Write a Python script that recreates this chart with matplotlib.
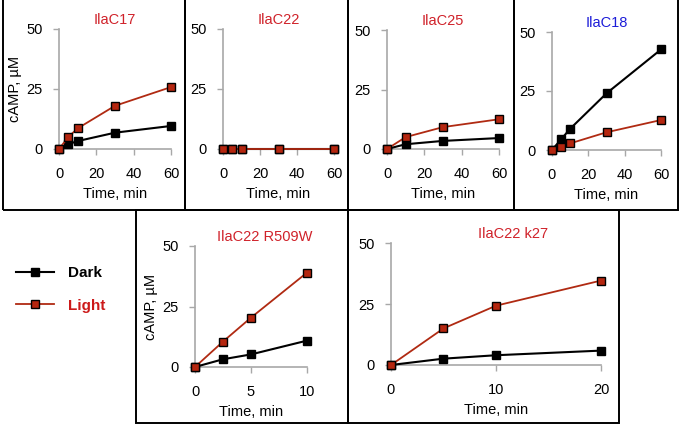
import matplotlib.pyplot as plt
from matplotlib.patches import Rectangle

plt.rcParams['font.family'] = ['Liberation Sans', 'DejaVu Sans']

W, H = 680, 428

# --- data ---
names = ['IlaC17', 'IlaC22', 'IlaC25', 'IlaC18', 'IlaC22 R509W', 'IlaC22 k27']
title_colors = ['#d0222a', '#d0222a', '#d0222a', '#1c1cd8', '#d0222a', '#d0222a']

t_17 = [0, 5, 10, 30, 60]
dark_17 = [0, 2.0, 3.3, 6.8, 9.6]
light_17 = [0, 5.0, 8.6, 18.0, 25.8]

t_22 = [0, 5, 10, 30, 60]
dark_22 = [0, 0, 0, 0, 0]
light_22 = [0, 0, 0, 0, 0]

t_25 = [0, 10, 30, 60]
dark_25 = [0, 2.0, 3.4, 4.6]
light_25 = [0, 5.0, 9.2, 12.5]

t_18 = [0, 5, 10, 30, 60]
dark_18 = [0, 4.5, 9.0, 24.0, 42.6]
light_18 = [0, 1.4, 2.8, 7.5, 12.7]

t_r509w = [0, 2.5, 5, 10]
dark_r509w = [0, 3.2, 5.2, 10.9]
light_r509w = [0, 10.5, 20.4, 39.0]

t_k27 = [0, 5, 10, 20]
dark_k27 = [0, 2.6, 4.0, 5.9]
light_k27 = [0, 15.0, 24.3, 34.6]

series = [
    (t_17, dark_17, light_17),
    (t_22, dark_22, light_22),
    (t_25, dark_25, light_25),
    (t_18, dark_18, light_18),
    (t_r509w, dark_r509w, light_r509w),
    (t_k27, dark_k27, light_k27),
]
xticks = [[0, 20, 40, 60]] * 4 + [[0, 5, 10], [0, 10, 20]]
yticks = [0, 25, 50]

# --- layout in pixels: (x0, x1, y_top(50), y_bottom(0)) ---
axes_px = [
    (59, 171, 29, 149),
    (223, 334, 29, 149),
    (387, 499, 30, 149),
    (552, 661, 32, 150),
    (195, 307, 246, 367),
    (391, 601, 243, 365),
]
title_shift = [0, 0, 0, 0, 14, 17]
boxes_px = [
    (3, -5, 185, 210), (185, -5, 348, 210), (348, -5, 514, 210), (514, -5, 678, 210),
    (136, 210, 348, 423), (348, 210, 619, 423),
]

LINE_RED = '#b02a12'
FILL_RED = '#b5260f'
GREY = '#a8a8a8'

fig = plt.figure(figsize=(W / 100, H / 100), dpi=100)

for (bx0, by0, bx1, by1) in boxes_px:
    fig.patches.append(Rectangle((bx0 / W, 1 - by1 / H), (bx1 - bx0) / W, (by1 - by0) / H,
                                 transform=fig.transFigure, fill=False,
                                 edgecolor='black', linewidth=1.4))

handles = None
for i, (x0, x1, yt, yb) in enumerate(axes_px):
    ax = fig.add_axes([x0 / W, 1 - yb / H, (x1 - x0) / W, (yb - yt) / H])
    t, dark, light = series[i]
    hd, = ax.plot(t, dark, color='black', lw=1.5, marker='s', ms=5.5,
                  mfc='black', mec='black', clip_on=False, zorder=3)
    hl, = ax.plot(t, light, color=LINE_RED, lw=1.3, marker='s', ms=5.5,
                  mfc=FILL_RED, mec='black', mew=1.0, clip_on=False, zorder=4)
    if handles is None:
        handles = [hd, hl]
    ax.set_xlim(xticks[i][0], xticks[i][-1])
    ax.set_ylim(0, 50)
    ax.set_xticks(xticks[i])
    ax.set_yticks(yticks)
    for s in ['top', 'right']:
        ax.spines[s].set_visible(False)
    for s in ['left', 'bottom']:
        ax.spines[s].set_color(GREY)
        ax.spines[s].set_linewidth(1.2)
    ax.tick_params(axis='both', colors=GREY, labelcolor='black', labelsize=10.5,
                   length=4, width=1)
    ax.tick_params(axis='x', pad=9)
    ax.tick_params(axis='y', pad=8)
    ax.set_xlabel('Time, min', fontsize=10.5, labelpad=4)
    if i in (0, 4):
        ax.set_ylabel('cAMP, \u00b5M', fontsize=10.5, labelpad=3)
    ax.patch.set_alpha(0)
    cx = (x0 + x1) / 2 + title_shift[i]
    fig.text(cx / W, 1 - (yt - 9) / H, names[i], color=title_colors[i],
             fontsize=10.5, ha='center', va='center')

leg = fig.legend(handles, ['Dark', 'Light'], loc='center left',
                 bbox_to_anchor=(16 / W, 1 - 289.5 / H), frameon=False,
                 prop={'weight': 'bold', 'size': 11}, borderpad=0, borderaxespad=0,
                 handlelength=2.5, handletextpad=0.9, labelspacing=1.2)
leg.get_texts()[1].set_color('#cc1a1a')

fig.savefig('out.png', dpi=100)
